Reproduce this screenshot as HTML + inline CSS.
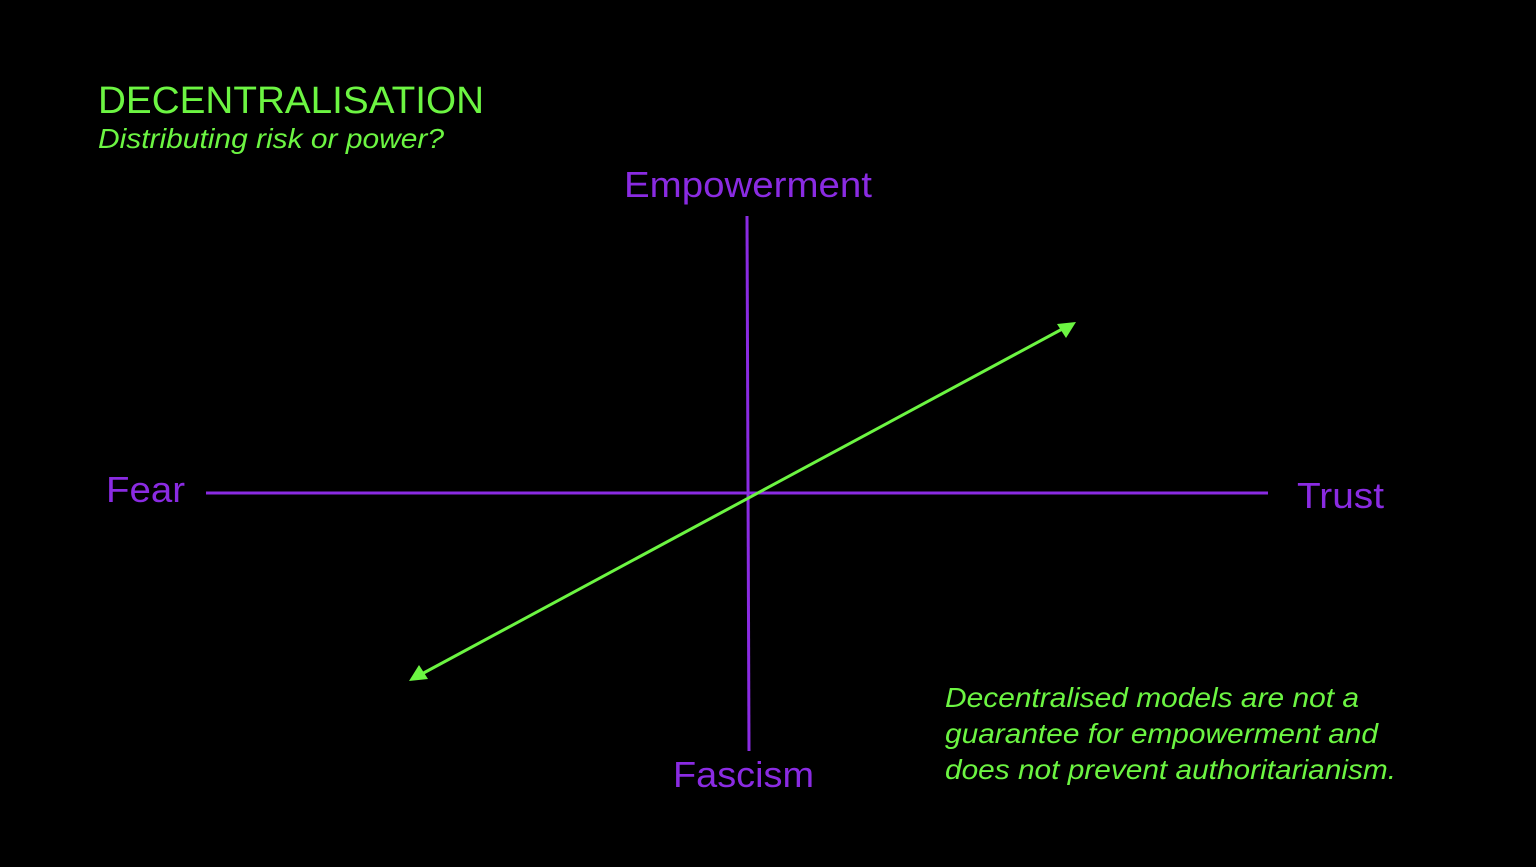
<!DOCTYPE html>
<html><head><meta charset="utf-8"><style>
html,body{margin:0;padding:0;background:#000;}
svg{display:block;}
text{font-family:"Liberation Sans",Arial,sans-serif;}
</style></head><body>
<svg width="1536" height="867" viewBox="0 0 1536 867" xmlns="http://www.w3.org/2000/svg">
<rect width="1536" height="867" fill="#000"/>
<defs>
<marker id="ah" markerWidth="10" markerHeight="10" refX="8" refY="5" orient="auto" markerUnits="userSpaceOnUse" viewBox="0 0 10 10">
<path d="M0,0 L10,5 L0,10 z" fill="#6cf542" transform="scale(1.6) translate(-3.7,-1.9)"/>
</marker>
</defs>
<text x="98" y="113" font-size="38" fill="#6cf542" textLength="386" lengthAdjust="spacingAndGlyphs">DECENTRALISATION</text>
<text x="98" y="148" font-size="28" font-style="italic" fill="#6cf542" textLength="346" lengthAdjust="spacingAndGlyphs">Distributing risk or power?</text>

<line x1="747" y1="216" x2="749" y2="751" stroke="#8a2be2" stroke-width="3"/>
<line x1="206" y1="493" x2="1268" y2="493" stroke="#8a2be2" stroke-width="3"/>

<line x1="418" y1="676" x2="1066" y2="327" stroke="#6cf542" stroke-width="3"/>
<polygon points="1076,322 1057,324 1066,338" fill="#6cf542"/>
<polygon points="409,681 428,679 419,665" fill="#6cf542"/>

<text x="624" y="197" font-size="36" fill="#8a2be2" textLength="248" lengthAdjust="spacingAndGlyphs">Empowerment</text>
<text x="106" y="502" font-size="36" fill="#8a2be2" textLength="79" lengthAdjust="spacingAndGlyphs">Fear</text>
<text x="1297" y="508" font-size="36" fill="#8a2be2" textLength="87" lengthAdjust="spacingAndGlyphs">Trust</text>
<text x="673" y="787" font-size="36" fill="#8a2be2" textLength="141" lengthAdjust="spacingAndGlyphs">Fascism</text>

<text font-size="28" font-style="italic" fill="#6cf542">
<tspan x="945" y="707" textLength="414" lengthAdjust="spacingAndGlyphs">Decentralised models are not a</tspan>
<tspan x="945" y="743" textLength="433" lengthAdjust="spacingAndGlyphs">guarantee for empowerment and</tspan>
<tspan x="945" y="779" textLength="451" lengthAdjust="spacingAndGlyphs">does not prevent authoritarianism.</tspan>
</text>
</svg>
</body></html>
